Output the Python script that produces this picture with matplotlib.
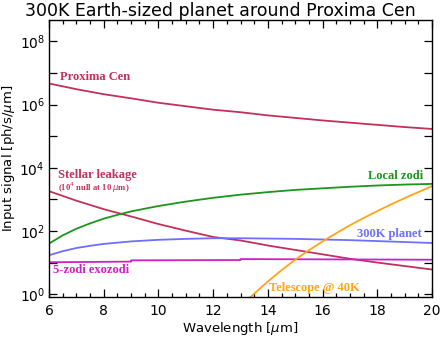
import matplotlib
matplotlib.use("Agg")
import matplotlib.pyplot as plt
from matplotlib.ticker import FixedLocator, FuncFormatter, MultipleLocator
import numpy as np

# ---------------- data (log10 of signal) ----------------
wl = [6, 7, 8, 9, 10, 11, 12, 13, 14, 15, 16, 17, 18, 19, 20]
proxima_log = [6.67, 6.49, 6.33, 6.20, 6.06, 5.95, 5.84, 5.76, 5.66, 5.58, 5.50, 5.43, 5.36, 5.29, 5.23]
leak_log = [3.26, 2.96, 2.69, 2.46, 2.22, 2.01, 1.81, 1.70, 1.54, 1.40, 1.26, 1.12, 1.00, 0.89, 0.78]

wl_fine = [6, 6.5, 7, 7.5, 8, 8.5, 9, 10, 11, 12, 13, 14, 15, 16, 17, 18, 19, 20]
zodi_log = [1.60, 1.86, 2.07, 2.24, 2.39, 2.51, 2.62, 2.79, 2.93, 3.05, 3.15, 3.23, 3.30, 3.35, 3.40, 3.44, 3.47, 3.49]
planet_log = [1.23, 1.36, 1.46, 1.53, 1.59, 1.63, 1.67, 1.72, 1.75, 1.77, 1.77, 1.76, 1.75, 1.73, 1.71, 1.68, 1.65, 1.62]

exo_wl = [6, 9, 9, 13, 13, 20]
exo_log = [1.01, 1.03, 1.07, 1.08, 1.11, 1.09]

tel_wl = [13.2, 13.35, 14, 14.5, 15, 15.5, 16, 16.5, 17, 17.5, 18, 18.5, 19, 19.5, 20]
tel_log = [-0.22, -0.10, 0.40, 0.76, 1.09, 1.39, 1.67, 1.93, 2.18, 2.41, 2.63, 2.84, 3.04, 3.23, 3.42]

c_prox = "#C3305A"
c_zodi = "#1A961A"
c_planet = "#6E6EFF"
c_exo = "#D21EC8"
c_tel = "#FFA514"

plt.rcParams['font.family'] = ['DejaVu Sans']

fig = plt.figure(figsize=(4.4, 3.38), dpi=100)
ax = fig.add_axes([49/440, 1-297.3/338, (432-49)/440, (297.3-20)/338])

def p(vals):
    return 10.0 ** np.asarray(vals)

lw = 1.3
ax.plot(wl, p(proxima_log), color=c_prox, lw=lw)
ax.plot(wl, p(leak_log), color=c_prox, lw=lw)
ax.plot(wl_fine, p(zodi_log), color=c_zodi, lw=lw)
ax.plot(wl_fine, p(planet_log), color=c_planet, lw=lw)
ax.plot(exo_wl, p(exo_log), color=c_exo, lw=lw)
ax.plot(tel_wl, p(tel_log), color=c_tel, lw=lw)

ax.set_yscale("log")
ax.set_xlim(6, 20)
ax.set_ylim(10**-0.1, 10**8.68)

ax.xaxis.set_major_locator(MultipleLocator(2))
ax.xaxis.set_minor_locator(MultipleLocator(0.5))
ax.yaxis.set_major_locator(FixedLocator([10.0**k for k in range(0, 9)]))
ax.yaxis.set_minor_locator(FixedLocator([]))
ax.yaxis.set_major_formatter(FuncFormatter(
    lambda v, pos: (r"$10^{%d}$" % round(np.log10(v))) if round(np.log10(v)) % 2 == 0 else ""))

ax.tick_params(which="both", direction="in", top=True, right=True, labelsize=10, width=0.9)
ax.tick_params(which="major", length=6)
ax.tick_params(which="minor", length=3)
ax.tick_params(axis="x", pad=5)
ax.tick_params(axis="y", pad=3)
for s in ax.spines.values():
    s.set_linewidth(1.0)

ax.set_xlabel(r"Wavelength [$\mu$m]", fontsize=9.5, labelpad=1)
ax.set_ylabel(r"Input signal [ph/s/$\mu$m]", fontsize=9.5, labelpad=2)
fig.text(0.5, 0.995, "300K Earth-sized planet around Proxima Cen", ha="center", va="top", fontsize=12.5)

serif = dict(family="Liberation Serif", fontweight="bold")
ax.text(6.4, 10**6.86, "Proxima Cen", color=c_prox, fontsize=9, va="center", **serif)
ax.text(6.33, 10**3.77, "Stellar leakage", color=c_prox, fontsize=9, va="center", **serif)
ax.text(6.33, 10**3.37, r"(10$^4$ null at 10 $\mu$m)", color=c_prox, fontsize=6.2, va="center",
        family="Liberation Serif", fontweight="bold")
ax.text(19.67, 10**3.74, "Local zodi", color=c_zodi, fontsize=9, va="center", ha="right", **serif)
ax.text(19.63, 10**1.92, "300K planet", color=c_planet, fontsize=9, va="center", ha="right", **serif)
ax.text(6.15, 10**0.78, "5-zodi exozodi", color=c_exo, fontsize=9, va="center", **serif)
ax.text(14.04, 10**0.19, "Telescope @ 40K", color=c_tel, fontsize=9, va="center", **serif)

fig.savefig("out.png", dpi=100)
